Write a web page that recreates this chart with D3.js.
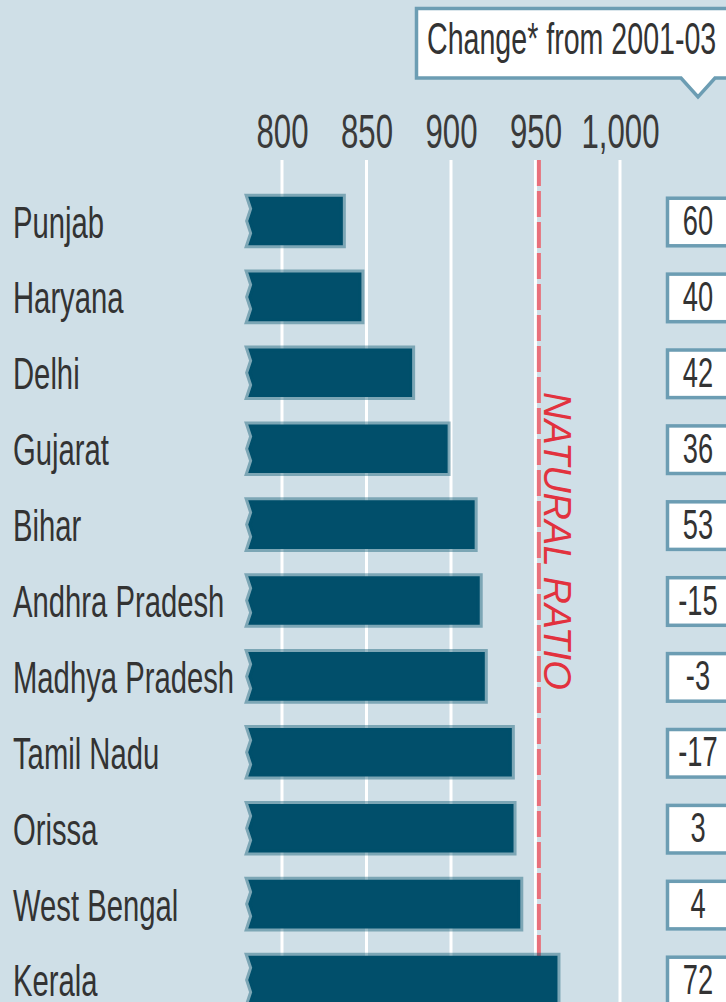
<!DOCTYPE html>
<html>
<head>
<meta charset="utf-8">
<script src="https://cdnjs.cloudflare.com/ajax/libs/d3/7.8.5/d3.min.js"></script>
<style>
  html, body { margin: 0; padding: 0; background: #cfdfe7; }
  svg { display: block; }
  text { font-family: "Liberation Sans", Arial, sans-serif; }
</style>
</head>
<body>
<div class="container"></div>
<script>
const width = 726,
    height = 1002,
    squeeze = 0.65;

const states = ['Punjab', 'Haryana', 'Delhi', 'Gujarat', 'Bihar', 'Andhra Pradesh',
    'Madhya Pradesh', 'Tamil Nadu', 'Orissa', 'West Bengal', 'Kerala'];
const ratios = [836, 847, 877, 898, 914, 917, 920, 936, 937, 941, 963];
const changes = [60, 40, 42, 36, 53, -15, -3, -17, 3, 4, 72];
const tickValues = [800, 850, 900, 950, 1000];
const naturalRatio = 952;
const barStart = 780;
const calloutTitle = 'Change* from 2001-03';
const naturalLabel = 'NATURAL RATIO';

const rows = states.map((s, i) => ({state: s, ratio: ratios[i], change: changes[i]}));

const svg = d3.select('.container')
    .append('svg')
    .attr('width', width)
    .attr('height', height);

svg.append('rect')
    .attr('width', width)
    .attr('height', height)
    .attr('fill', '#cfdfe7');

const x = d3.scaleLinear()
    .domain([800, 1000])
    .range([282, 620]);

const y = d3.scaleBand()
    .domain(states)
    .range([169.4, 1031.6])
    .padding(0.36);

// gridlines
svg.append('g')
    .selectAll('line')
    .data(tickValues)
    .enter()
    .append('line')
    .attr('x1', d => x(d))
    .attr('x2', d => x(d))
    .attr('y1', 160)
    .attr('y2', height)
    .attr('stroke', '#ffffff')
    .attr('stroke-width', 3);

// axis labels
const axis = svg.append('g')
    .attr('transform', 'translate(0,148)')
    .call(d3.axisTop(x)
        .tickValues(tickValues)
        .tickSize(0)
        .tickFormat(d3.format(',')));

axis.select('.domain').remove();
axis.selectAll('text')
    .attr('y', 0)
    .attr('dy', 0)
    .attr('font-size', 48)
    .attr('font-family', '"Liberation Sans", Arial, sans-serif')
    .attr('fill', '#3a3a3a')
    .attr('transform', `scale(${squeeze},1)`);

// natural ratio line
svg.append('line')
    .attr('x1', x(naturalRatio))
    .attr('x2', x(naturalRatio))
    .attr('y1', 160)
    .attr('y2', height)
    .attr('stroke', '#e8707b')
    .attr('stroke-width', 4)
    .attr('stroke-dasharray', '26,5');

svg.append('text')
    .attr('transform', `translate(${x(naturalRatio) + 5},392) rotate(90)`)
    .attr('font-size', 38)
    .attr('font-style', 'italic')
    .attr('fill', '#e2323e')
    .text(naturalLabel);

// bars with broken left edge
function barPath(d) {
    const x0 = x(barStart),
        x1 = x(d.ratio),
        y0 = y(d.state),
        h = y.bandwidth();
    return `M${x0},${y0} L${x0 + 4},${y0 + h * 0.25} L${x0},${y0 + h * 0.5} ` +
        `L${x0 + 4},${y0 + h * 0.75} L${x0},${y0 + h} L${x1},${y0 + h} L${x1},${y0} Z`;
}

svg.append('g')
    .selectAll('path')
    .data(rows)
    .enter()
    .append('path')
    .attr('d', barPath)
    .attr('fill', '#014f6b')
    .attr('stroke', 'rgba(1,79,107,0.4)')
    .attr('stroke-width', 6)
    .attr('stroke-linejoin', 'miter');

// state labels
svg.append('g')
    .selectAll('text')
    .data(rows)
    .enter()
    .append('text')
    .attr('transform', d => `translate(13,${y(d.state) + y.bandwidth() / 2 + 16.5}) scale(${squeeze},1)`)
    .attr('font-size', 45)
    .attr('fill', '#333333')
    .text(d => d.state);

// change boxes
const boxes = svg.append('g')
    .selectAll('g')
    .data(rows)
    .enter()
    .append('g')
    .attr('transform', d => `translate(666,${y(d.state)})`);

boxes.append('rect')
    .attr('x', 1.5)
    .attr('y', 1.5)
    .attr('width', 66)
    .attr('height', y.bandwidth() - 1)
    .attr('fill', '#ffffff')
    .attr('stroke', '#6c9db3')
    .attr('stroke-width', 3.5);

boxes.append('text')
    .attr('transform', `translate(32,${y.bandwidth() / 2 + 14}) scale(${squeeze},1)`)
    .attr('text-anchor', 'middle')
    .attr('font-size', 42)
    .attr('fill', '#333333')
    .text(d => d.change);

// callout
svg.append('path')
    .attr('d', 'M416.5,8.5 H740 V78 H715 L698,97 L681,78 H416.5 Z')
    .attr('fill', '#ffffff')
    .attr('stroke', '#6c9db3')
    .attr('stroke-width', 3.5)
    .attr('stroke-linejoin', 'miter');

svg.append('text')
    .attr('transform', `translate(427,54) scale(${squeeze},1)`)
    .attr('font-size', 44)
    .attr('fill', '#333333')
    .text(calloutTitle);
</script>
</body>
</html>
